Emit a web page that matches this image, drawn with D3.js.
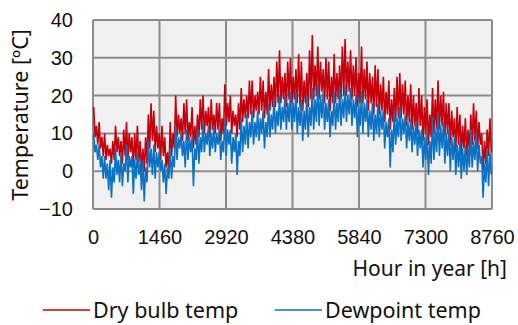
<!DOCTYPE html>
<meta charset="utf-8">
<style>
    body { margin: 0; background: #fff; }
    .grid line { stroke: #8c8c8c; stroke-width: 2px; }
    .tick text { font-family: "Liberation Sans", Arial, sans-serif; font-size: 20px; fill: #111; }
    .label { font-family: "Noto Sans", "Open Sans", sans-serif; fill: #111; }
</style>
<svg width="518" height="325"></svg>
<script src="https://d3js.org/d3.v7.min.js"></script>
<script>
    // hourly data, summarised as high / low per 60 h block
    var blockHours = 60;
    var dryHigh = [17,12,13,9,10,7,6,8,12,9,8,11,13,10,9,10,12,8,6,9,
        15,18,16,12,10,12,9,5,13,10,20,15,14,18,19,13,17,12,15,19,
        20,16,17,19,15,18,18,14,23,18,20,16,15,18,22,19,20,24,24,20,
        21,25,24,21,27,23,25,29,32,25,26,29,30,25,27,31,29,24,26,32,
        36,28,33,29,27,30,29,25,31,26,28,33,35,29,32,28,30,26,33,27,
        29,26,25,28,27,23,25,21,24,19,22,25,26,23,24,20,23,20,18,22,
        20,17,19,15,22,19,24,20,21,18,18,16,14,17,15,12,14,11,15,18,
        16,13,10,8,11,14];
    var dryLow = [9,7,6,4,3,4,2,3,5,4,2,4,3,5,1,3,2,0,0,2,
        6,8,5,6,3,4,1,-1,4,6,9,10,8,10,8,9,6,7,9,11,
        10,12,9,11,10,11,8,10,12,13,10,12,9,11,13,14,14,15,14,16,
        15,16,14,15,16,17,17,18,18,19,17,19,18,19,18,17,16,18,17,19,
        19,20,19,21,18,19,16,18,18,19,19,20,20,21,19,20,17,18,18,19,
        16,18,15,17,15,16,13,15,11,13,13,14,14,15,12,13,11,12,10,12,
        8,10,7,9,10,11,11,12,9,10,7,9,5,7,4,6,4,5,7,8,
        6,7,0,2,4,5];
    var dewHigh = [10,7,7,4,4,2,3,1,6,3,5,2,7,4,4,3,5,2,3,1,
        8,6,7,5,5,3,2,1,6,4,12,9,10,8,11,9,9,6,11,9,
        13,10,12,10,12,10,11,8,14,11,11,9,10,8,14,12,15,13,16,13,
        16,14,16,13,18,15,19,16,20,17,20,18,21,18,21,17,19,16,20,17,
        22,19,23,20,21,18,19,16,21,18,22,19,23,20,22,19,20,17,21,18,
        19,16,18,15,18,16,16,13,14,11,16,14,17,14,15,13,14,12,13,11,
        11,9,10,8,14,11,15,12,13,10,11,9,9,7,8,6,7,6,11,8,
        10,7,4,2,6,5];
    var dewLow = [5,3,1,-2,-2,-5,-7,-3,-1,-3,-4,0,-3,1,-6,-2,-1,-5,-8,-3,
        1,-1,-2,1,0,-3,-6,-2,-2,1,3,6,4,1,3,5,-4,3,2,5,
        5,7,4,6,5,7,3,5,4,7,2,5,-1,4,5,7,6,9,7,9,
        8,10,6,9,9,11,10,12,11,13,11,13,11,13,10,12,8,11,9,12,
        11,13,12,14,11,13,9,12,11,13,12,14,13,15,12,14,9,12,10,13,
        9,11,8,10,9,11,6,9,1,5,7,9,8,10,6,8,5,7,4,6,
        1,3,-1,2,3,5,4,6,2,4,0,3,-1,1,-2,0,-1,1,1,3,
        0,2,-7,-3,-4,-1];

    var xTicks = [0, 1460, 2920, 4380, 5840, 7300, 8760];
    var yTicks = [-10, 0, 10, 20, 30, 40];

    var svg = d3.select("svg");
    var mLeft = 93, mRight = 492, mTop = 20, mBottom = 209;

    var x = d3.scaleLinear().domain([0, 8760]).range([mLeft, mRight]);
    var y = d3.scaleLinear().domain([-10, 40]).range([mBottom, mTop]);

    // turn the block highs / lows into a zigzag series
    function zigzag(hi, lo) {
        var pts = [];
        hi.forEach(function(h, i) {
            pts.push([i * blockHours + blockHours * 0.25, h]);
            pts.push([i * blockHours + blockHours * 0.75, lo[i]]);
        });
        return pts;
    }

    svg.append("rect")
        .attr("x", mLeft).attr("y", mTop)
        .attr("width", mRight - mLeft).attr("height", mBottom - mTop)
        .attr("fill", "#f0f0f0");

    var grid = svg.append("g").attr("class", "grid");
    grid.selectAll("line.h").data(yTicks).enter().append("line")
        .attr("x1", mLeft).attr("x2", mRight)
        .attr("y1", function(d) { return y(d); })
        .attr("y2", function(d) { return y(d); });
    grid.selectAll("line.v").data(xTicks).enter().append("line")
        .attr("y1", mTop).attr("y2", mBottom)
        .attr("x1", function(d) { return x(d); })
        .attr("x2", function(d) { return x(d); });

    var line = d3.line()
        .x(function(d) { return x(d[0]); })
        .y(function(d) { return y(d[1]); });

    svg.append("path")
        .datum(zigzag(dryHigh, dryLow))
        .attr("fill", "none")
        .attr("stroke", "#c6000a")
        .attr("stroke-width", 1.6)
        .attr("d", line);

    svg.append("path")
        .datum(zigzag(dewHigh, dewLow))
        .attr("fill", "none")
        .attr("stroke", "#0a72c4")
        .attr("stroke-width", 1.6)
        .attr("d", line);

    var yAxis = svg.append("g")
        .attr("transform", "translate(" + (mLeft - 8) + ",0)")
        .call(d3.axisLeft(y).tickValues(yTicks).tickSize(0).tickPadding(12));
    yAxis.select(".domain").remove();

    var xAxis = svg.append("g")
        .attr("transform", "translate(0," + (mBottom + 8) + ")")
        .call(d3.axisBottom(x).tickValues(xTicks).tickFormat(d3.format("d")).tickSize(0).tickPadding(13));
    xAxis.select(".domain").remove();

    svg.append("text")
        .attr("class", "label")
        .attr("transform", "translate(28,115) rotate(-90)")
        .attr("text-anchor", "middle")
        .attr("font-size", 21.5)
        .text("Temperature [ºC]");

    svg.append("text")
        .attr("class", "label")
        .attr("x", 507).attr("y", 276)
        .attr("text-anchor", "end")
        .attr("font-size", 21)
        .text("Hour in year [h]");

    var legend = [
        { name: "Dry bulb temp", color: "#c6000a", x: 43 },
        { name: "Dewpoint temp", color: "#0a72c4", x: 275 }
    ];
    var lg = svg.selectAll("g.legend").data(legend).enter().append("g")
        .attr("transform", function(d) { return "translate(" + d.x + ",310)"; });
    lg.append("line")
        .attr("x1", 0).attr("x2", 47)
        .attr("stroke", function(d) { return d.color; })
        .attr("stroke-width", 1.5);
    lg.append("text")
        .attr("class", "label")
        .attr("x", 50).attr("y", 8)
        .attr("font-size", 21.5)
        .text(function(d) { return d.name; });
</script>
